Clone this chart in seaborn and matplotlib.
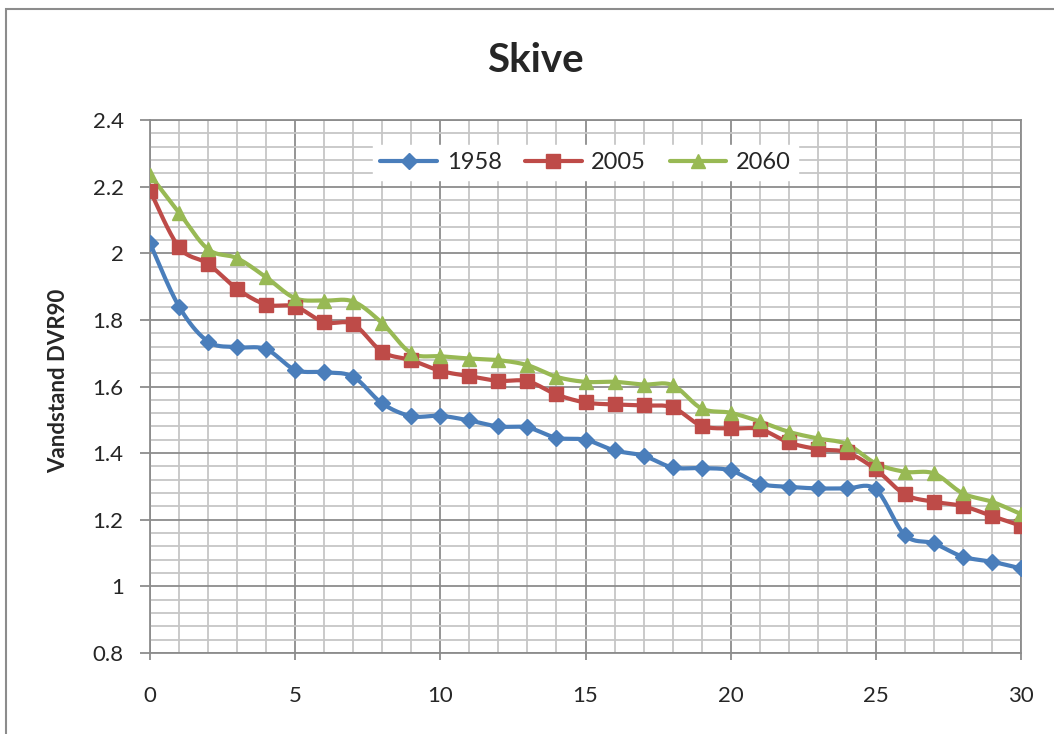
import numpy as np
import pandas as pd
import matplotlib
matplotlib.use("Agg")
import matplotlib.pyplot as plt
from matplotlib.lines import Line2D
from matplotlib.patches import Rectangle
import seaborn as sns

# Data
x_vals = list(range(0, 31))
v1958 = [2.03, 1.84, 1.735, 1.718, 1.712, 1.65, 1.643, 1.629, 1.549, 1.511, 1.512,
         1.498, 1.48, 1.477, 1.446, 1.44, 1.408, 1.392, 1.357, 1.355, 1.348,
         1.308, 1.299, 1.294, 1.294, 1.291, 1.154, 1.129, 1.089, 1.074, 1.054]
v2005 = [2.188, 2.018, 1.968, 1.893, 1.846, 1.84, 1.793, 1.787, 1.704, 1.679, 1.647,
         1.631, 1.617, 1.616, 1.576, 1.552, 1.546, 1.543, 1.537, 1.482, 1.474,
         1.472, 1.432, 1.412, 1.402, 1.351, 1.276, 1.254, 1.241, 1.211, 1.182]
v2060 = [2.235, 2.122, 2.012, 1.985, 1.928, 1.865, 1.858, 1.855, 1.79, 1.7, 1.691,
         1.684, 1.679, 1.664, 1.629, 1.614, 1.614, 1.606, 1.604, 1.534, 1.521,
         1.495, 1.464, 1.444, 1.427, 1.369, 1.344, 1.339, 1.279, 1.254, 1.217]
series_names = ["1958", "2005", "2060"]
colors = ["#4A7EBB", "#BE4B48", "#98B954"]
markers = ["D", "s", "^"]
marker_sizes = [8.5, 10, 10.5]


def smooth(xs, ys, n=20):
    # Excel-like smoothed line (Catmull-Rom style bezier segments)
    p = np.column_stack([xs, ys]).astype(float)
    p = np.vstack([p[0], p, p[-1]])
    out = []
    t = np.linspace(0, 1, n)[:, None]
    for i in range(1, len(p) - 2):
        p0, p3 = p[i], p[i + 1]
        p1 = p0 + (p[i + 1] - p[i - 1]) / 6
        p2 = p3 - (p[i + 2] - p[i]) / 6
        seg = ((1 - t) ** 3) * p0 + 3 * ((1 - t) ** 2) * t * p1 + 3 * (1 - t) * t ** 2 * p2 + t ** 3 * p3
        out.append(seg if i == 1 else seg[1:])
    return np.vstack(out)


sns.set_style("white")
plt.rcParams["font.family"] = ["Lato", "DejaVu Sans"]

fig = plt.figure(figsize=(10.54, 7.34), dpi=100)
ax = fig.add_axes([150 / 1054, 81 / 734, 871 / 1054, 533 / 734])

rows = []
for name, vals in zip(series_names, [v1958, v2005, v2060]):
    curve = smooth(x_vals, vals)
    rows.append(pd.DataFrame({"x": curve[:, 0], "y": curve[:, 1], "serie": name,
                              "order": np.arange(len(curve))}))
curves = pd.concat(rows, ignore_index=True)

sns.lineplot(data=curves, x="x", y="y", hue="serie", palette=colors, sort=False,
             estimator=None, units="serie", lw=3, legend=False, ax=ax, zorder=3)

points = pd.DataFrame({"x": x_vals * 3,
                       "y": v1958 + v2005 + v2060,
                       "serie": [s for s in series_names for _ in x_vals]})
for name, c, m, ms in zip(series_names, colors, markers, marker_sizes):
    sub = points[points["serie"] == name]
    ax.plot(sub["x"], sub["y"], linestyle="none", marker=m, ms=ms, color=c, zorder=4)

ax.set_xlim(0, 30)
ax.set_ylim(0.8, 2.4)
ax.set_xticks(range(0, 31, 5))
ax.set_xticks(range(0, 31), minor=True)
ax.set_yticks(np.round(np.arange(0.8, 2.41, 0.2), 1))
ax.set_yticks(np.arange(0.8, 2.401, 0.04), minor=True)
ax.set_yticklabels(["0.8", "1", "1.2", "1.4", "1.6", "1.8", "2", "2.2", "2.4"])
ax.grid(which="major", color="#8C8C8C", lw=1.3)
ax.grid(which="minor", color="#C6C6C6", lw=1.3)
ax.set_axisbelow(True)
for sp in ax.spines.values():
    sp.set_color("#8C8C8C")
    sp.set_linewidth(1.3)

ax.tick_params(axis="y", which="major", length=7, width=1.3, color="#8C8C8C",
               labelsize=16, pad=12, left=True)
ax.tick_params(axis="x", which="major", length=5, width=1.3, color="#8C8C8C",
               labelsize=16, pad=19, bottom=True)
ax.tick_params(which="minor", length=0)

ax.set_xlabel("")
ax.set_ylabel("Vandstand DVR90", fontsize=16, fontweight="bold")
ax.yaxis.set_label_coords(-0.093, 0.51)

fig.text(535 / 1054, 1 - 61 / 734, "Skive", fontsize=29, fontweight="bold",
         ha="center", va="center")

handles = [Line2D([], [], color=c, lw=3, marker=m, ms=ms)
           for c, m, ms in zip(colors, markers, marker_sizes)]
leg = ax.legend(handles, series_names, loc="upper center", bbox_to_anchor=(0.5, 0.975),
                ncol=3, fontsize=17, frameon=True, framealpha=1, facecolor="white",
                edgecolor="white", handlelength=2.4, handletextpad=0.4,
                columnspacing=1.0, borderpad=0.3, fancybox=False)
leg.set_zorder(5)

# outer chart-area border (runs off the right and bottom edges)
fig.add_artist(Rectangle((6 / 1054, -0.1), 1.2, 1 - 9 / 734 + 0.1, transform=fig.transFigure,
                         fill=False, edgecolor="#8C8C8C", lw=1.5))

fig.savefig("out.png", dpi=100)
